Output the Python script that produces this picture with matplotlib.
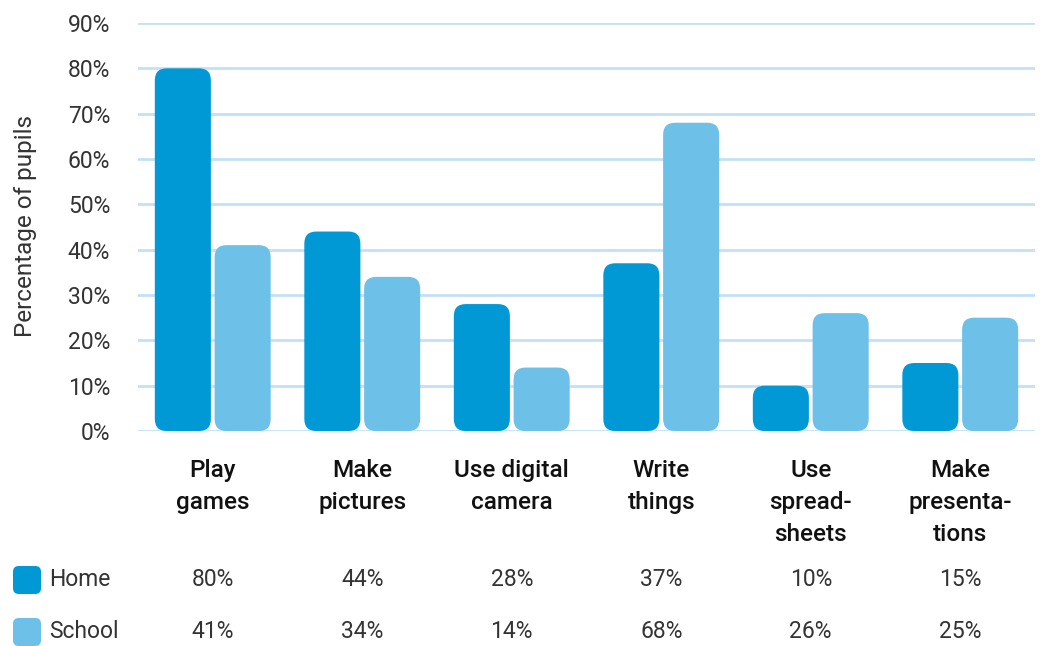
import matplotlib
matplotlib.use("Agg")
import matplotlib.pyplot as plt
from matplotlib.patches import FancyBboxPatch
import matplotlib.transforms as mtransforms
import numpy as np

categories = ["Play\ngames", "Make\npictures", "Use digital\ncamera", "Write\nthings",
              "Use\nspread-\nsheets", "Make\npresenta-\ntions"]
home = [80, 44, 28, 37, 10, 15]
school = [41, 34, 14, 68, 26, 25]
series_names = ["Home", "School"]
yticks = [0, 10, 20, 30, 40, 50, 60, 70, 80, 90]

HOME_C = "#0099d6"
SCHOOL_C = "#6dc0e8"
GRID_C = "#c2e1f4"
TEXT_C = "#333333"

W, H = 1041, 646
fig = plt.figure(figsize=(W / 100, H / 100), dpi=100)
ax = fig.add_axes([138 / W, 1 - 431 / H, (1035 - 138) / W, (431 - 23) / H])
ax.set_xlim(-0.5, 5.5)
ax.set_ylim(0, 90)

for y in yticks:
    ax.axhline(y, color=GRID_C, lw=2.0, zorder=0)

bw = 0.375
off = 0.2
xpx = (1035 - 138) / 6.0
ypx = (431 - 23) / 90.0
r_px = 12
r_x = r_px / xpx
aspect = (r_px / ypx) / r_x

x = np.arange(len(categories))
for vals, sign, col in [(home, -1, HOME_C), (school, 1, SCHOOL_C)]:
    for xi, v in zip(x, vals):
        left = xi + sign * off - bw / 2
        p = FancyBboxPatch((left, 0), bw, v,
                           boxstyle=f"round,pad=0,rounding_size={r_x}",
                           mutation_aspect=aspect, fc=col, ec="none", zorder=2)
        ax.add_patch(p)

for s in ax.spines.values():
    s.set_visible(False)
ax.set_xticks([])
ax.set_yticks(yticks)
ax.set_yticklabels([f"{v}%" for v in yticks], fontsize=16.5, color=TEXT_C,
                   family="Roboto", fontweight="normal")
ax.tick_params(axis="y", length=0, pad=20)

fig.text(26 / W, 1 - 226 / H, "Percentage of pupils", rotation=90, ha="center",
         va="center", fontsize=17.5, color=TEXT_C, family="Roboto", fontweight="normal")

trans = mtransforms.blended_transform_factory(ax.transData, fig.transFigure)
for xi, c in zip(x, categories):
    ax.text(xi, 1 - 459 / H, c, transform=trans, ha="center", va="top",
            fontsize=17.5, family="Roboto", fontweight="medium", color="#111111",
            linespacing=1.5)

rows = [(home, HOME_C, 580), (school, SCHOOL_C, 632)]
for (vals, col, yc), name in zip(rows, series_names):
    sq = FancyBboxPatch((13 / W, 1 - (yc + 14) / H), 28 / W, 28 / H,
                        boxstyle="round,pad=0,rounding_size=0.0055",
                        mutation_aspect=W / H, transform=fig.transFigure,
                        fc=col, ec="none")
    fig.patches.append(sq)
    fig.text(49 / W, 1 - yc / H, name, ha="left", va="center", fontsize=16.5,
             family="Roboto", fontweight="normal", color=TEXT_C)
    for xi, v in zip(x, vals):
        ax.text(xi, 1 - yc / H, f"{v}%", transform=trans, ha="center", va="center",
                fontsize=16.5, family="Roboto", fontweight="normal", color=TEXT_C)

fig.savefig("out.png", dpi=100)
